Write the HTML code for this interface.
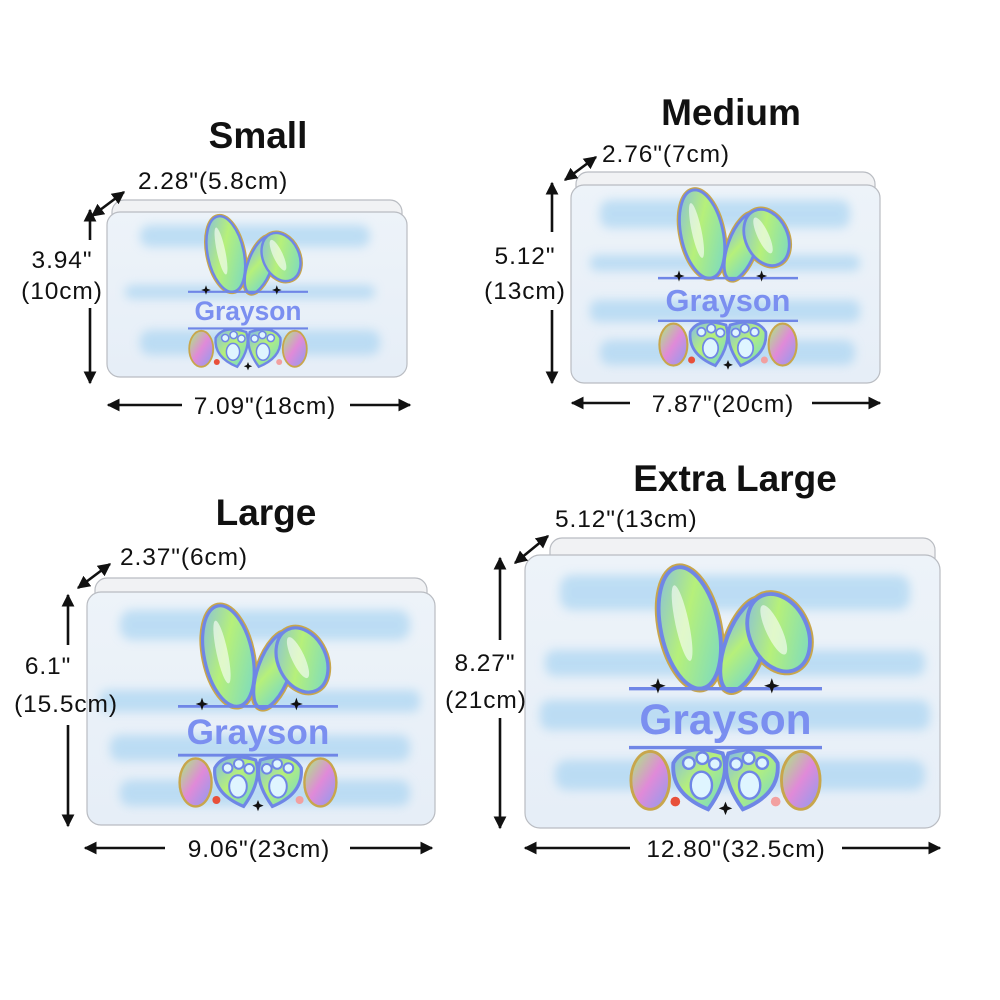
<!DOCTYPE html>
<html><head><meta charset="utf-8"><style>
html,body{margin:0;padding:0;background:#fff;}
svg{display:block;font-family:"Liberation Sans",sans-serif;}
</style></head><body>
<svg width="1000" height="1000" viewBox="0 0 1000 1000" xmlns="http://www.w3.org/2000/svg">
<defs>
<marker id="ah" viewBox="0 0 10 10" refX="9" refY="5" markerWidth="5" markerHeight="5" orient="auto-start-reverse"><path d="M0,0L10,5L0,10z" fill="#111"/></marker>
<linearGradient id="ear" x1="0" y1="0" x2="1" y2="1"><stop offset="0" stop-color="#7fb6f0"/><stop offset=".45" stop-color="#b6f07a"/><stop offset="1" stop-color="#6fd6d0"/></linearGradient>
<linearGradient id="egg" x1="0" y1="0" x2="1" y2="1"><stop offset="0" stop-color="#a6f07a"/><stop offset=".5" stop-color="#e08ad8"/><stop offset="1" stop-color="#8a9cf0"/></linearGradient>
<linearGradient id="body" x1="0" y1="0" x2="0" y2="1"><stop offset="0" stop-color="#edf3f9"/><stop offset="1" stop-color="#e6eef7"/></linearGradient>
<filter id="bl" x="-20%" y="-50%" width="140%" height="200%"><feGaussianBlur stdDeviation="5"/></filter>
</defs>

<!-- Titles -->
<g font-weight="bold" fill="#111" text-anchor="middle" font-size="37">
<text x="258" y="148">Small</text>
<text x="731" y="125">Medium</text>
<text x="266" y="525">Large</text>
<text x="735" y="491">Extra Large</text>
</g>

<!-- Boxes -->
<g stroke="#b9bcc2" stroke-width="1.2">
<rect x="112" y="200" width="290" height="40" rx="12" fill="#f1f2f4"/>
<rect x="576" y="172" width="299" height="40" rx="12" fill="#f1f2f4"/>
<rect x="95" y="578" width="332" height="40" rx="12" fill="#f1f2f4"/>
<rect x="550" y="538" width="385" height="40" rx="12" fill="#f1f2f4"/>
<rect x="107" y="212" width="300" height="165" rx="13" fill="url(#body)"/>
<rect x="571" y="185" width="309" height="198" rx="13" fill="url(#body)"/>
<rect x="87" y="592" width="348" height="233" rx="14" fill="url(#body)"/>
<rect x="525" y="555" width="415" height="273" rx="15" fill="url(#body)"/>
</g>

<!-- streaks -->
<g fill="#a9d4f2" opacity=".7" filter="url(#bl)">
<rect x="140" y="225" width="230" height="22" rx="10"/><rect x="125" y="285" width="250" height="14" rx="7"/><rect x="140" y="330" width="240" height="25" rx="10"/>
<rect x="600" y="200" width="250" height="28" rx="10"/><rect x="590" y="255" width="270" height="16" rx="7"/><rect x="590" y="300" width="270" height="22" rx="8"/><rect x="600" y="340" width="255" height="25" rx="10"/>
<rect x="120" y="610" width="290" height="30" rx="12"/><rect x="100" y="690" width="320" height="22" rx="8"/><rect x="110" y="735" width="300" height="26" rx="10"/><rect x="120" y="780" width="290" height="26" rx="10"/>
<rect x="560" y="575" width="350" height="35" rx="12"/><rect x="545" y="650" width="380" height="26" rx="10"/><rect x="540" y="700" width="390" height="30" rx="10"/><rect x="555" y="760" width="370" height="30" rx="12"/>
</g>

<!-- ART (200x250 unit) -->
<g id="a1" transform="translate(188 218) scale(0.6)">
<g stroke="#c8a64c" stroke-width="8" fill="none"><ellipse cx="63" cy="60" rx="30" ry="64" transform="rotate(-12 63 60)"/><ellipse cx="120" cy="78" rx="20" ry="50" transform="rotate(20 120 78)"/><ellipse cx="155" cy="65" rx="30" ry="42" transform="rotate(-25 155 65)"/></g>
<g stroke="#6f86e6" stroke-width="4" fill="url(#ear)"><ellipse cx="63" cy="60" rx="30" ry="64" transform="rotate(-12 63 60)"/><ellipse cx="120" cy="78" rx="20" ry="50" transform="rotate(20 120 78)"/><ellipse cx="155" cy="65" rx="30" ry="42" transform="rotate(-25 155 65)"/></g>
<g fill="#fff" opacity=".6"><ellipse cx="55" cy="55" rx="7" ry="40" transform="rotate(-12 55 55)"/><ellipse cx="150" cy="62" rx="8" ry="28" transform="rotate(-25 150 62)"/></g>
<line x1="0" y1="123" x2="200" y2="123" stroke="#6f86e6" stroke-width="3.5"/><line x1="0" y1="184" x2="200" y2="184" stroke="#6f86e6" stroke-width="3.5"/>
<text x="100" y="170" text-anchor="middle" font-size="44" font-weight="bold" fill="#7b8ff0">Grayson</text>
<g fill="#111"><path d="M30,112 l2,6 6,2 -6,2 -2,6 -2,-6 -6,-2 6,-2z"/><path d="M148,112 l2,6 6,2 -6,2 -2,6 -2,-6 -6,-2 6,-2z"/><path d="M100,240 l2,5 5,2 -5,2 -2,5 -2,-5 -5,-2 5,-2z"/></g>
<g stroke="#c8a64c" stroke-width="3"><ellipse cx="22" cy="218" rx="20" ry="30" fill="url(#egg)"/><ellipse cx="178" cy="218" rx="20" ry="30" fill="url(#egg)"/></g>
<g stroke="#6f86e6" stroke-width="4" fill="url(#ear)"><path d="M46,200 Q58,178 97,190 Q106,215 82,248 Q43,232 46,200z"/><path d="M154,200 Q142,178 103,190 Q94,215 118,248 Q157,232 154,200z"/></g>
<g fill="#dff5ff" stroke="#6f86e6" stroke-width="2.5"><circle cx="62" cy="200" r="6"/><circle cx="76" cy="195" r="6"/><circle cx="89" cy="201" r="6"/><ellipse cx="75" cy="223" rx="11" ry="14"/><circle cx="138" cy="200" r="6"/><circle cx="124" cy="195" r="6"/><circle cx="111" cy="201" r="6"/><ellipse cx="125" cy="223" rx="11" ry="14"/></g>
<circle cx="48" cy="240" r="5" fill="#e8503a"/><circle cx="152" cy="240" r="5" fill="#f2a0a0"/>
</g>
<use href="#a1" transform="translate(658 192) scale(1.1667) translate(-188 -218)"/>
<use href="#a1" transform="translate(178 608) scale(1.3333) translate(-188 -218)"/>
<use href="#a1" transform="translate(629 570) scale(1.6083) translate(-188 -218)"/>

<!-- arrows -->
<g stroke="#111" stroke-width="2.6" marker-start="url(#ah)" marker-end="url(#ah)" fill="none">
<line x1="92" y1="216" x2="124" y2="192"/>
<line x1="90" y1="210" x2="90" y2="240" marker-end="none"/><line x1="90" y1="308" x2="90" y2="383" marker-start="none"/>
<line x1="108" y1="405" x2="182" y2="405" marker-end="none"/><line x1="350" y1="405" x2="410" y2="405" marker-start="none"/>
<line x1="565" y1="180" x2="596" y2="157"/>
<line x1="552" y1="183" x2="552" y2="232" marker-end="none"/><line x1="552" y1="310" x2="552" y2="383" marker-start="none"/>
<line x1="572" y1="403" x2="630" y2="403" marker-end="none"/><line x1="812" y1="403" x2="880" y2="403" marker-start="none"/>
<line x1="78" y1="588" x2="110" y2="564"/>
<line x1="68" y1="595" x2="68" y2="645" marker-end="none"/><line x1="68" y1="725" x2="68" y2="826" marker-start="none"/>
<line x1="85" y1="848" x2="165" y2="848" marker-end="none"/><line x1="350" y1="848" x2="432" y2="848" marker-start="none"/>
<line x1="515" y1="563" x2="548" y2="536"/>
<line x1="500" y1="558" x2="500" y2="640" marker-end="none"/><line x1="500" y1="718" x2="500" y2="828" marker-start="none"/>
<line x1="525" y1="848" x2="630" y2="848" marker-end="none"/><line x1="842" y1="848" x2="940" y2="848" marker-start="none"/>
</g>

<!-- labels -->
<g fill="#111" font-size="24.5" letter-spacing="0.9">
<text x="138" y="189">2.28"(5.8cm)</text>
<text x="602" y="162">2.76"(7cm)</text>
<text x="120" y="565">2.37"(6cm)</text>
<text x="555" y="527">5.12"(13cm)</text>
<g text-anchor="middle">
<text x="62" y="268">3.94"</text><text x="62" y="299">(10cm)</text>
<text x="265" y="414">7.09"(18cm)</text>
<text x="525" y="264">5.12"</text><text x="525" y="299">(13cm)</text>
<text x="723" y="412">7.87"(20cm)</text>
<text x="48" y="674">6.1"</text><text x="66" y="712">(15.5cm)</text>
<text x="259" y="857">9.06"(23cm)</text>
<text x="485" y="671">8.27"</text><text x="486" y="708">(21cm)</text>
<text x="736" y="857">12.80"(32.5cm)</text>
</g></g>
</svg>
</body></html>
